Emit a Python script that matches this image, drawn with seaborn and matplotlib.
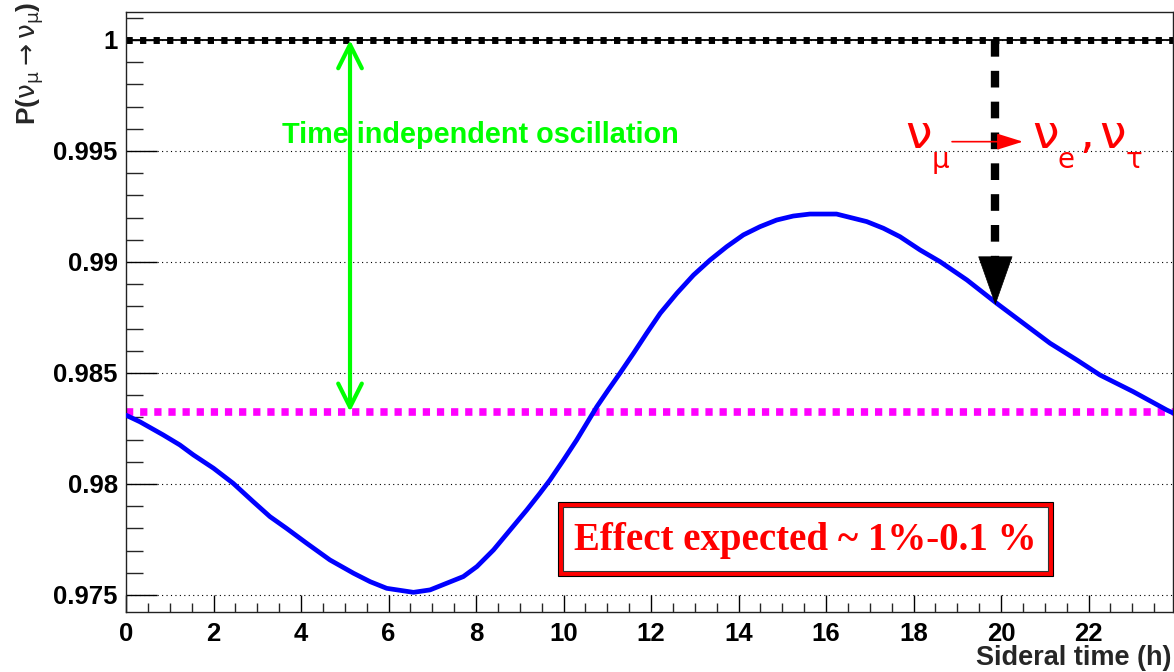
import numpy as np
import pandas as pd
import matplotlib
matplotlib.use("Agg")
import matplotlib.pyplot as plt
from matplotlib.patches import Rectangle
import seaborn as sns

# ---- data ----
hours = [0.00, 0.32, 0.85, 1.23, 1.54, 2.00, 2.45, 2.91, 3.29, 3.67, 4.13, 4.66,
         5.20, 5.58, 5.96, 6.57, 6.95, 7.33, 7.71, 8.02, 8.40, 8.78, 9.16, 9.46,
         9.69, 10.00, 10.30, 10.53, 10.76, 11.02, 11.29, 11.60, 11.90, 12.21,
         12.59, 12.97, 13.35, 13.73, 14.11, 14.49, 14.87, 15.25, 15.63, 16.24,
         16.93, 17.31, 17.69, 18.15, 18.61, 19.22, 19.90, 20.51, 21.12, 21.73,
         22.26, 23.02, 23.79, 23.93]
prob = [0.98310, 0.98280, 0.98221, 0.98176, 0.98131, 0.98071, 0.98003, 0.97920,
        0.97853, 0.97800, 0.97733, 0.97658, 0.97598, 0.97560, 0.97530, 0.97512,
        0.97523, 0.97553, 0.97583, 0.97628, 0.97703, 0.97793, 0.97883, 0.97958,
        0.98018, 0.98108, 0.98198, 0.98273, 0.98348, 0.98423, 0.98499, 0.98589,
        0.98679, 0.98769, 0.98859, 0.98941, 0.99009, 0.99069, 0.99122, 0.99159,
        0.99189, 0.99207, 0.99216, 0.99216, 0.99182, 0.99152, 0.99114, 0.99054,
        0.99001, 0.98919, 0.98814, 0.98724, 0.98634, 0.98559, 0.98491, 0.98416,
        0.98333, 0.98320]
mean_prob = 0.98325
no_osc = 1.0
arrow_time = 19.87
arrow_prob = 0.98806
green_arrow_time = 5.12

xticks = [0, 2, 4, 6, 8, 10, 12, 14, 16, 18, 20, 22]
yticks = [0.975, 0.98, 0.985, 0.99, 0.995, 1.0]
ytick_labels = ["0.975", "0.98", "0.985", "0.99", "0.995", "1"]
x_title = "Sideral time (h)"
y_title = r"P($\mathrm{\nu_{\mu}\rightarrow\nu_{\mu}}$)"
green_text = "Time independent oscillation"
box_text = "Effect expected ~ 1%-0.1 %"

df = pd.DataFrame({"hours": hours, "prob": prob})

sns.set_style("ticks")
plt.rcParams["font.family"] = ["Liberation Sans", "DejaVu Sans"]
plt.rcParams["mathtext.fontset"] = "dejavusans"

W, H = 1174, 672
fig = plt.figure(figsize=(W / 100, H / 100), dpi=100)
ax = fig.add_axes([126 / W, (H - 612) / H, 1047 / W, 600 / H])

xmax = 23.93
ymin, ymax = 0.974234, 1.001261
ax.set_xlim(0, xmax)
ax.set_ylim(ymin, ymax)

# grid
ax.set_yticks(yticks)
ax.grid(axis="y", which="major", linestyle=(0, (1, 3)), color="black", lw=0.8, zorder=0)
ax.grid(axis="x", visible=False)

# horizontal reference lines
ax.axhline(mean_prob, color="#ff00ff", lw=5.5, linestyle=(0, (0.95, 0.9)), zorder=2)
ax.axhline(no_osc, color="black", lw=1.3, zorder=2)
ax.axhline(no_osc, color="black", lw=5, linestyle=(0, (0.9, 1.05)), zorder=2)

# curve
sns.lineplot(data=df, x="hours", y="prob", ax=ax, color="#0000ff", lw=3.4, zorder=3)

# black dashed arrow
head_base = arrow_prob + 0.0021
ax.plot([arrow_time, arrow_time], [no_osc, head_base], color="black", lw=6,
        linestyle=(0, (2.0, 1.7)), solid_capstyle="butt", dash_capstyle="butt", zorder=4)
ax.annotate("", xy=(arrow_time, arrow_prob), xytext=(arrow_time, head_base + 0.0001),
            arrowprops=dict(arrowstyle="-|>,head_length=3.4,head_width=1.2",
                            color="black", lw=0.5, shrinkA=0, shrinkB=0,
                            mutation_scale=10), zorder=5)

# green double arrow
ax.annotate("", xy=(green_arrow_time, no_osc), xytext=(green_arrow_time, mean_prob),
            arrowprops=dict(arrowstyle="<->,head_length=1.7,head_width=0.85",
                            color="#00ff00", lw=3, shrinkA=0, shrinkB=0,
                            mutation_scale=10), zorder=5)
ax.text(8.11, 0.99572, green_text, color="#00ff00", fontsize=20.8, fontweight="bold",
        ha="center", va="center", zorder=6)

# red transition label
red = "#ff0000"
fs_big, fs_sub = 34, 20
ax.text(17.81, 0.99514, "ν", color=red, fontsize=fs_big, family="DejaVu Sans",
        ha="left", va="baseline", zorder=6)
ax.text(18.42, 0.99423, "μ", color=red, fontsize=fs_sub, family="DejaVu Sans",
        ha="left", va="baseline", zorder=6)
ax.annotate("", xy=(20.50, 0.99542), xytext=(18.88, 0.99542),
            arrowprops=dict(arrowstyle="-|>,head_length=1.6,head_width=0.5",
                            color=red, lw=1.2, shrinkA=0, shrinkB=0, mutation_scale=10),
            zorder=6)
ax.text(20.71, 0.99514, "ν", color=red, fontsize=fs_big, family="DejaVu Sans",
        ha="left", va="baseline", zorder=6)
ax.text(21.28, 0.99423, "e", color=red, fontsize=fs_sub, family="DejaVu Sans",
        ha="left", va="baseline", zorder=6)
ax.text(21.78, 0.99514, ",", color=red, fontsize=fs_big, family="DejaVu Sans",
        ha="left", va="baseline", zorder=6)
ax.text(22.24, 0.99514, "ν", color=red, fontsize=fs_big, family="DejaVu Sans",
        ha="left", va="baseline", zorder=6)
ax.text(22.85, 0.99423, "τ", color=red, fontsize=fs_sub, family="DejaVu Sans",
        ha="left", va="baseline", zorder=6)

# effect box (pixel layout -> axes fraction)
def fx(px):
    return (px - 126) / 1047
def fy(py):
    return (612 - py) / 600
ax.add_patch(Rectangle((fx(558), fy(576)), fx(1053) - fx(558), fy(502) - fy(576),
                       transform=ax.transAxes, facecolor=red, edgecolor="black",
                       lw=0.8, zorder=6))
ax.add_patch(Rectangle((fx(563), fy(571)), fx(1048) - fx(563), fy(507) - fy(571),
                       transform=ax.transAxes, facecolor="white", edgecolor="#333333",
                       lw=0.8, zorder=6))
ax.text((fx(558) + fx(1053)) / 2, (fy(502) + fy(576)) / 2 - 0.003, box_text, color=red,
        fontsize=28, fontweight="bold", family="Liberation Serif",
        ha="center", va="center", transform=ax.transAxes, zorder=7)

# axes styling
ax.set_xticks(xticks)
ax.set_xticklabels([str(t) for t in xticks])
ax.set_yticklabels(ytick_labels)
ax.xaxis.set_minor_locator(matplotlib.ticker.MultipleLocator(0.5))
ax.yaxis.set_minor_locator(matplotlib.ticker.MultipleLocator(0.001))
ax.tick_params(axis="y", which="major", direction="in", length=22, width=1,
               labelsize=18.5, pad=6, colors="black")
ax.tick_params(axis="y", which="minor", direction="in", length=12, width=1)
ax.tick_params(axis="x", which="major", direction="in", length=12, width=1,
               labelsize=18.5, pad=7, colors="black")
ax.tick_params(axis="x", which="minor", direction="in", length=6.5, width=1)
for lab in ax.get_xticklabels() + ax.get_yticklabels():
    lab.set_fontweight("bold")
for sp in ax.spines.values():
    sp.set_visible(True)
    sp.set_color("#222222")
    sp.set_linewidth(1.0)
ax.set_xlabel("")
ax.set_ylabel("")

fig.text(1172 / W, 1 - 665 / H, x_title, ha="right", va="baseline",
         fontsize=19.5, fontweight="bold")
fig.text(30 / W, 1 - 2 / H, y_title, ha="center", va="top", rotation=90,
         fontsize=19, fontweight="bold")

fig.savefig("out.png", dpi=100)
